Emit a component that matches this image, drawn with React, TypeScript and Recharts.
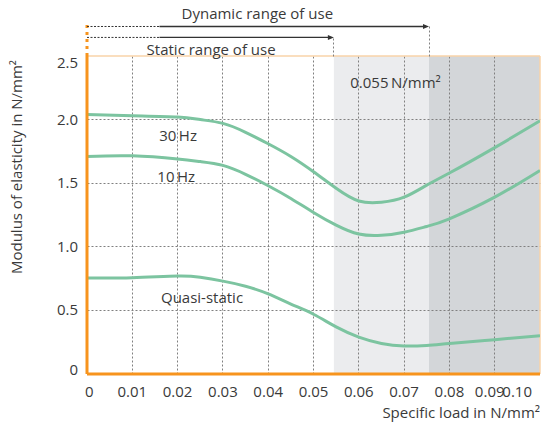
import React from "react";
import {
  LineChart,
  Line,
  XAxis,
  YAxis,
  ReferenceArea,
  ReferenceLine,
  ReferenceDot,
} from "recharts";

const loads = [0, 0.01, 0.02, 0.025, 0.03, 0.035, 0.04, 0.045, 0.05, 0.055, 0.06, 0.065, 0.07, 0.075, 0.08, 0.09, 0.1];
const hz30 = [2.04, 2.03, 2.02, 2.0, 1.97, 1.9, 1.81, 1.71, 1.59, 1.46, 1.36, 1.35, 1.39, 1.485, 1.58, 1.78, 1.99];
const hz10 = [1.71, 1.715, 1.69, 1.67, 1.64, 1.57, 1.48, 1.38, 1.27, 1.17, 1.1, 1.09, 1.115, 1.16, 1.22, 1.39, 1.6];
const quasiStatic = [0.755, 0.757, 0.77, 0.76, 0.73, 0.69, 0.63, 0.55, 0.47, 0.37, 0.29, 0.24, 0.22, 0.225, 0.24, 0.27, 0.3];

const xTicks = [0, 0.01, 0.02, 0.03, 0.04, 0.05, 0.06, 0.07, 0.08, 0.09, 0.1];
const yTicks = [0, 0.5, 1, 1.5, 2, 2.5];
const xGrid = [0.01, 0.02, 0.03, 0.04, 0.05, 0.06, 0.07, 0.08, 0.09];
const yGrid = [0.5, 1, 1.5, 2];
const X_MAX = 0.1;
const Y_MAX = 2.5;

const staticEnd = 0.0545;
const dynamicEnd = 0.0755;

const toSeries = (vals: number[]) => loads.map((x, i) => ({ x, y: vals[i] }));

const ORANGE = "#F7941D";
const LIGHT_ORANGE = "#F9D3A8";
const GREEN = "#7CC4A0";
const TEXT = "#3a3a3a";
const GRID = "#808080";
const FONT = "'Open Sans', sans-serif";
const FS = 15;

const crisp = (v: number) => Math.round(v - 0.5) + 0.5;

const GridLine = (props: any) => {
  const { x1, y1, x2, y2 } = props;
  return (
    <line x1={crisp(x1)} y1={crisp(y1)} x2={crisp(x2)} y2={crisp(y2)} stroke={GRID} strokeWidth={1} strokeDasharray="2 2" />
  );
};

// dotted grid drawn over the whole plot (so it stays on top of the gray bands)
const GridShape = (props: any) => {
  const { x, y, width, height } = props;
  const left = Math.min(x, x + width);
  const top = Math.min(y, y + height);
  const w = Math.abs(width);
  const h = Math.abs(height);
  const px = (v: number) => left + (v / X_MAX) * w;
  const py = (v: number) => top + h - (v / Y_MAX) * h;
  return (
    <g>
      {xGrid.map((v) => (
        <GridLine key={"x" + v} x1={px(v)} x2={px(v)} y1={top} y2={top + h} />
      ))}
      {yGrid.map((v) => (
        <GridLine key={"y" + v} x1={left} x2={left + w} y1={py(v)} y2={py(v)} />
      ))}
    </g>
  );
};

const XTick = (props: any) => {
  const { x, y, payload, index } = props;
  const v = payload.value;
  const anchor = index === 0 ? "start" : v >= 0.1 ? "end" : "middle";
  const dx = index === 0 ? -2 : v === 0.09 ? -5 : 0;
  return (
    <text x={x + dx} y={y} dy={15} textAnchor={anchor} fill={TEXT} fontSize={FS} fontFamily={FONT}>
      {v === 0 ? "0" : v.toFixed(2)}
    </text>
  );
};

const YTick = (props: any) => {
  const { x, y, payload } = props;
  const v = payload.value;
  const dy = v >= 2.5 ? 12 : v === 0 ? 1 : 5;
  return (
    <text x={x} y={y} dy={dy} textAnchor="end" fill={TEXT} fontSize={FS} fontFamily={FONT}>
      {v === 0 ? "0" : v.toFixed(1)}
    </text>
  );
};

const ArrowLine = (props: any) => {
  const { x1, y1, x2, y2 } = props;
  return (
    <g>
      <line x1={x1} y1={y1} x2={x2 - 4} y2={y2} stroke="#333" strokeWidth={1.3} />
      <polygon points={`${x2},${y2} ${x2 - 6},${y2 - 2.5} ${x2 - 6},${y2 + 2.5}`} fill="#333" />
    </g>
  );
};

const XLabel = (props: any) => {
  const { viewBox } = props;
  return (
    <text x={viewBox.x + viewBox.width} y={viewBox.y + 44} textAnchor="end" fill={TEXT} fontSize={FS} fontFamily={FONT}>
      Specific load in N/mm²
    </text>
  );
};

const YLabel = (props: any) => {
  const { viewBox } = props;
  const cx = viewBox.x + 22;
  const cy = viewBox.y + 111;
  return (
    <text x={cx} y={cy} transform={`rotate(-90 ${cx} ${cy})`} textAnchor="middle" fill={TEXT} fontSize={FS} fontFamily={FONT}>
      Modulus of elasticity in N/mm²
    </text>
  );
};

const labelStyle = { fill: TEXT, fontSize: FS, fontFamily: FONT };

export default function App() {
  return (
    <div style={{ position: "absolute", left: 0, top: 0, background: "#fff" }}>
      <LineChart width={542} height={428} margin={{ top: 56, right: 2, bottom: 24, left: 0 }}>
        <ReferenceArea x1={staticEnd} x2={dynamicEnd} y1={0} y2={Y_MAX} fill="#EBECEE" fillOpacity={1} stroke="none" />
        <ReferenceArea x1={dynamicEnd} x2={X_MAX} y1={0} y2={Y_MAX} fill="#D3D6D9" fillOpacity={1} stroke="none" />
        <ReferenceArea x1={0} x2={X_MAX} y1={0} y2={Y_MAX} shape={<GridShape />} />
        <XAxis
          type="number"
          dataKey="x"
          domain={[0, X_MAX]}
          ticks={xTicks}
          allowDataOverflow
          height={30}
          tick={<XTick />}
          tickLine={false}
          axisLine={{ stroke: ORANGE, strokeWidth: 3 }}
          label={<XLabel />}
        />
        <YAxis
          type="number"
          domain={[0, Y_MAX]}
          ticks={yTicks}
          allowDataOverflow
          width={87}
          tick={<YTick />}
          tickLine={false}
          tickMargin={3}
          axisLine={{ stroke: ORANGE, strokeWidth: 3 }}
          label={<YLabel />}
        />
        <ReferenceLine y={Y_MAX} stroke={LIGHT_ORANGE} strokeWidth={1.5} />
        <ReferenceLine x={X_MAX} stroke={LIGHT_ORANGE} strokeWidth={1.5} />

        {/* range of use annotations above the plot */}
        <ReferenceLine
          segment={[{ x: 0, y: 2.5 }, { x: 0, y: 2.77 }]}
          stroke={ORANGE}
          strokeWidth={3}
          strokeDasharray="3 4"
          ifOverflow="visible"
        />
        <ReferenceLine segment={[{ x: 0, y: 2.732 }, { x: 0.016, y: 2.732 }]} stroke="#333" strokeDasharray="2 1.5" ifOverflow="visible" />
        <ReferenceLine segment={[{ x: 0.016, y: 2.732 }, { x: dynamicEnd, y: 2.732 }]} shape={<ArrowLine />} ifOverflow="visible" />
        <ReferenceLine segment={[{ x: 0, y: 2.646 }, { x: 0.016, y: 2.646 }]} stroke="#333" strokeDasharray="2 1.5" ifOverflow="visible" />
        <ReferenceLine segment={[{ x: 0.016, y: 2.646 }, { x: staticEnd, y: 2.646 }]} shape={<ArrowLine />} ifOverflow="visible" />
        <ReferenceLine segment={[{ x: dynamicEnd, y: 2.5 }, { x: dynamicEnd, y: 2.732 }]} shape={<GridLine />} ifOverflow="visible" />
        <ReferenceLine segment={[{ x: staticEnd, y: 2.5 }, { x: staticEnd, y: 2.646 }]} shape={<GridLine />} ifOverflow="visible" />
        <ReferenceDot x={0.0376} y={2.83} r={0} stroke="none" ifOverflow="visible" label={{ value: "Dynamic range of use", position: "center", ...labelStyle }} />
        <ReferenceDot x={0.0274} y={2.55} r={0} stroke="none" ifOverflow="visible" label={{ value: "Static range of use", position: "center", ...labelStyle }} />

        <Line data={toSeries(hz30)} dataKey="y" type="natural" stroke={GREEN} strokeWidth={3} dot={false} isAnimationActive={false} />
        <Line data={toSeries(hz10)} dataKey="y" type="natural" stroke={GREEN} strokeWidth={3} dot={false} isAnimationActive={false} />
        <Line data={toSeries(quasiStatic)} dataKey="y" type="natural" stroke={GREEN} strokeWidth={3} dot={false} isAnimationActive={false} />

        <ReferenceDot x={0.0201} y={1.875} r={0} stroke="none" label={{ value: "30\u2009Hz", position: "center", ...labelStyle }} />
        <ReferenceDot x={0.0197} y={1.55} r={0} stroke="none" label={{ value: "10\u2009Hz", position: "center", ...labelStyle }} />
        <ReferenceDot x={0.0254} y={0.6} r={0} stroke="none" label={{ value: "Quasi-static", position: "center", ...labelStyle }} />
        <ReferenceDot x={0.0681} y={2.29} r={0} stroke="none" label={{ value: "0.055\u2009N/mm²", position: "center", ...labelStyle }} />
      </LineChart>
    </div>
  );
}
